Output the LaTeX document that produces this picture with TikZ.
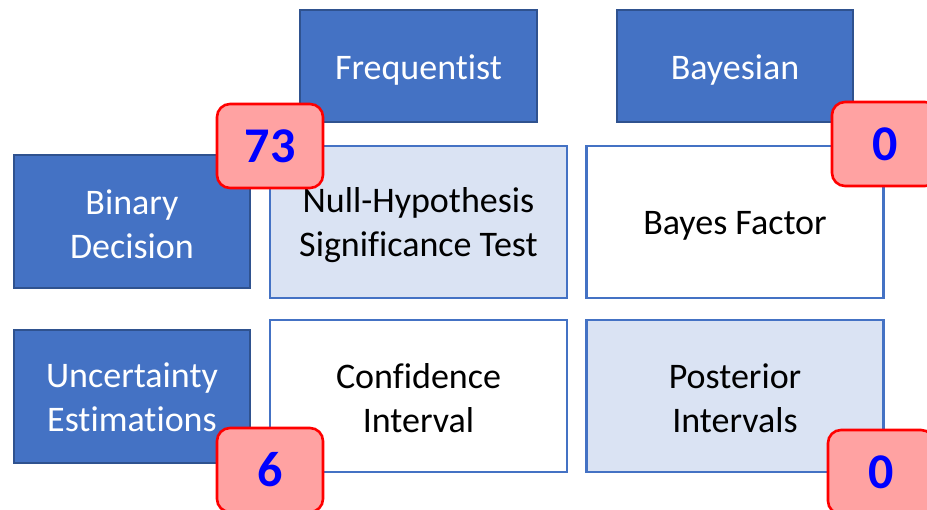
\documentclass[tikz,border=0pt]{standalone}
\usepackage{fontspec}
\setmainfont[Ligatures=NoCommon]{Carlito}
\definecolor{hdrfill}{HTML}{4472C4}
\definecolor{hdrline}{HTML}{2F528F}
\definecolor{cellfill}{HTML}{DAE3F3}
\definecolor{cellline}{HTML}{4472C4}
\definecolor{badgefill}{HTML}{FFA2A2}
\definecolor{badgeline}{HTML}{FF0000}
\definecolor{badgetext}{HTML}{0000FF}
\tikzset{
  header/.style={draw=hdrline, fill=hdrfill, line width=1.6pt, inner sep=0pt},
  cell/.style={draw=cellline, line width=2.6pt, inner sep=0pt,
    minimum width=297pt, minimum height=152pt},
  shaded/.style={cell, fill=cellfill},
  plain/.style={cell, fill=white},
  boxtext/.style={align=center, inner sep=0pt, font=\fontsize{36}{44}\selectfont},
  hdrtext/.style={boxtext, text=white},
  celltext/.style={boxtext, text=black},
  badge/.style={draw=badgeline, fill=badgefill, line width=2.6pt,
    rounded corners=13pt, minimum width=106pt, minimum height=84pt,
    inner sep=0pt, text=badgetext, font=\fontsize{50}{50}\selectfont\bfseries}
}
\begin{document}
\begin{tikzpicture}[x=1pt, y=-1pt]
  \useasboundingbox (0,0) rectangle (927,510);
  \clip (0,0) rectangle (927,510);

  % column headers
  \node[header, minimum width=237pt, minimum height=112pt] (freq) at (418.5,66) {};
  \node[header, minimum width=236pt, minimum height=112pt] (bayes) at (735,66) {};
  \node[hdrtext] (freq-t) at ([yshift=-4pt]freq.center) {Frequentist};
  \node[hdrtext] (bayes-t) at ([yshift=-4pt]bayes.center) {Bayesian};

  % row headers
  \node[header, minimum width=236pt, minimum height=133pt] (bin) at (132,221.5) {};
  \node[header, minimum width=236pt, minimum height=133pt] (unc) at (132,396.5) {};
  \node[hdrtext] (bin-t) at ([yshift=-3pt]bin.center) {Binary\\Decision};
  \node[hdrtext] (unc-t) at ([yshift=-1pt]unc.center) {Uncertainty\\Estimations};

  % method cells
  \node[shaded] (nhst) at (418.5,222) {};
  \node[plain]  (bf)   at (735,222)   {};
  \node[plain]  (ci)   at (418.5,396) {};
  \node[shaded] (pi)   at (735,396)   {};
  \node[celltext] (nhst-t) at ([yshift=-3pt]nhst.center) {Null-Hypothesis\\Significance Test};
  \node[celltext] (bf-t)   at ([yshift=-4pt]bf.center)   {Bayes Factor};
  \node[celltext] (ci-t)   at ([yshift=-2pt]ci.center)   {Confidence\\Interval};
  \node[celltext] (pi-t)   at ([yshift=-2pt]pi.center)   {Posterior\\Intervals};

  % counts
  \node[badge] (cnhst) at (270,146) {73};
  \node[badge] (cbf)   at (885,144) {0};
  \node[badge] (cci)   at (270,470) {6};
  \node[badge] (cpi)   at (881,472) {0};
\end{tikzpicture}
\end{document}
